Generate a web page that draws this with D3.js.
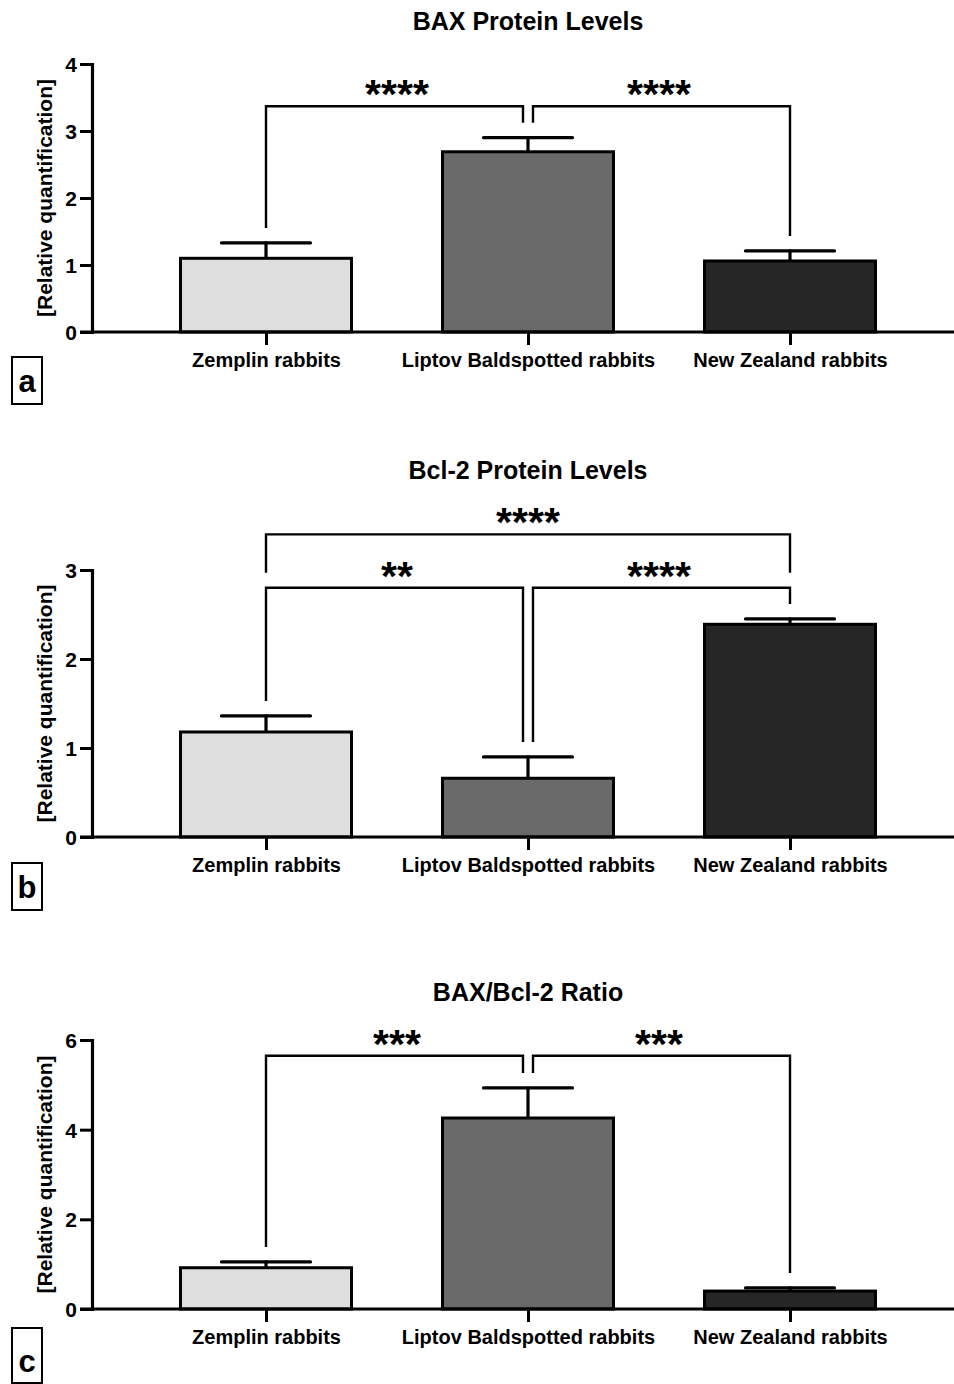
<!DOCTYPE html>
<html><head><meta charset="utf-8">
<script src="https://cdn.jsdelivr.net/npm/d3@7"></script>
<style>
body{margin:0;background:#fff}
svg{display:block}
text{font-family:"Liberation Sans",Arial,Helvetica,sans-serif;font-weight:bold;fill:#000}
</style>
</head><body>
<svg id="chart" width="954" height="1384"></svg>
<script>
// ---------- data ----------
const categories = ["Zemplin rabbits", "Liptov Baldspotted rabbits", "New Zealand rabbits"];
const barColors = ["#dedede", "#696969", "#262626"];

const baxMeans = [1.10, 2.69, 1.06];
const baxErrors = [0.23, 0.21, 0.15];
const baxTicks = [0, 1, 2, 3, 4];
const baxComparisons = [
  {from: 0, to: 1, level: 3.37, label: "****"},
  {from: 1, to: 2, level: 3.37, label: "****"}
];

const bclMeans = [1.18, 0.66, 2.39];
const bclErrors = [0.18, 0.24, 0.06];
const bclTicks = [0, 1, 2, 3];
const bclComparisons = [
  {from: 0, to: 1, level: 2.80, label: "**"},
  {from: 1, to: 2, level: 2.80, label: "****"},
  {from: 0, to: 2, level: 3.40, label: "****"}
];

const ratioMeans = [0.92, 4.26, 0.40];
const ratioErrors = [0.13, 0.67, 0.07];
const ratioTicks = [0, 2, 4, 6];
const ratioComparisons = [
  {from: 0, to: 1, level: 5.65, label: "***"},
  {from: 1, to: 2, level: 5.65, label: "***"}
];

// ---------- drawing ----------
const svg = d3.select("#chart");
const x = d3.scalePoint().domain(categories).range([266, 790]);
const barW = 171, capW = 89, axisX = 92;

function panel(o) {
  const g = svg.append("g");
  const y = d3.scaleLinear().domain([0, d3.max(o.ticks)]).range([o.bottom, o.top]);

  // title
  g.append("text").attr("x", 528).attr("y", o.titleY).attr("text-anchor", "middle")
    .style("font-size", "25px").text(o.title);

  // error bars
  const eb = g.append("g").attr("stroke", "#000").attr("stroke-width", 3.2).attr("stroke-linecap", "round");
  categories.forEach((c, i) => {
    eb.append("line").attr("x1", x(c)).attr("x2", x(c)).attr("y1", y(o.means[i])).attr("y2", y(o.means[i] + o.errs[i]));
    eb.append("line").attr("x1", x(c) - capW / 2).attr("x2", x(c) + capW / 2)
      .attr("y1", y(o.means[i] + o.errs[i])).attr("y2", y(o.means[i] + o.errs[i]));
  });

  // bars
  g.append("g").selectAll("rect").data(categories).join("rect")
    .attr("x", c => x(c) - barW / 2).attr("width", barW)
    .attr("y", (c, i) => y(o.means[i])).attr("height", (c, i) => y(0) - y(o.means[i]))
    .attr("fill", (c, i) => barColors[i]).attr("stroke", "#000").attr("stroke-width", 3);

  // x baseline and ticks
  g.append("line").attr("x1", 80).attr("x2", 954).attr("y1", y(0)).attr("y2", y(0))
    .attr("stroke", "#000").attr("stroke-width", 3.2);
  const xa = g.append("g").attr("transform", `translate(0,${y(0)})`)
    .call(d3.axisBottom(x).tickSize(13).tickPadding(10).tickSizeOuter(0));
  xa.select(".domain").remove();
  xa.selectAll(".tick line").attr("stroke-width", 3);
  xa.selectAll(".tick text").style("font-size", "20px").attr("dy", null).attr("y", 35);

  // y axis
  const ya = g.append("g").attr("transform", `translate(${axisX},0)`)
    .call(d3.axisLeft(y).tickValues(o.ticks).tickFormat(d3.format("d")).tickSize(12).tickPadding(3).tickSizeOuter(0));
  ya.select(".domain").attr("stroke-width", 3.2).attr("stroke-linecap", "square");
  ya.selectAll(".tick line").attr("stroke-width", 3);
  ya.selectAll(".tick text").style("font-size", "21px").attr("dy", "0.36em");

  // y label
  g.append("text").attr("transform", `translate(52,${(o.top + o.bottom) / 2}) rotate(-90)`)
    .attr("text-anchor", "middle").style("font-size", "21px").text("[Relative quantification]");

  // significance brackets
  const gap = 15;
  const br = g.append("g").attr("fill", "none").attr("stroke", "#000").attr("stroke-width", 2.4);
  o.comps.forEach(cp => {
    const by = y(cp.level);
    const legEnd = k => {
      let v = y(o.means[k] + o.errs[k]);
      o.comps.forEach(other => {
        if (other !== cp && other.level < cp.level && other.from <= k && other.to >= k) v = Math.min(v, y(other.level));
      });
      return v - gap;
    };
    const shared = (k, side) => o.comps.some(other => other !== cp && other.level === cp.level &&
      (side === "to" ? other.from === k : other.to === k));
    const x1 = x(categories[cp.from]) + (shared(cp.from, "from") ? 5 : 0);
    const x2 = x(categories[cp.to]) - (shared(cp.to, "to") ? 5 : 0);
    br.append("path").attr("d", `M${x1},${legEnd(cp.from)}V${by}H${x2}V${legEnd(cp.to)}`);
    g.append("text").attr("x", (x(categories[cp.from]) + x(categories[cp.to])) / 2).attr("y", by + 2)
      .attr("text-anchor", "middle").style("font-size", "41px").text(cp.label);
  });

  // panel letter
  g.append("rect").attr("x", 12).attr("y", o.boxY).attr("width", 30).attr("height", o.boxH)
    .attr("fill", "none").attr("stroke", "#000").attr("stroke-width", 2);
  g.append("text").attr("x", 27).attr("y", o.letterY).attr("text-anchor", "middle")
    .style("font-size", "31px").text(o.letter);
}

panel({title: "BAX Protein Levels", titleY: 30, top: 64, bottom: 332, ticks: baxTicks,
  means: baxMeans, errs: baxErrors, comps: baxComparisons, letter: "a", boxY: 357, boxH: 47, letterY: 392});
panel({title: "Bcl-2 Protein Levels", titleY: 479, top: 570, bottom: 837, ticks: bclTicks,
  means: bclMeans, errs: bclErrors, comps: bclComparisons, letter: "b", boxY: 863, boxH: 47, letterY: 898});
panel({title: "BAX/Bcl-2 Ratio", titleY: 1001, top: 1040, bottom: 1309, ticks: ratioTicks,
  means: ratioMeans, errs: ratioErrors, comps: ratioComparisons, letter: "c", boxY: 1328, boxH: 55, letterY: 1372});
</script>
</body></html>
